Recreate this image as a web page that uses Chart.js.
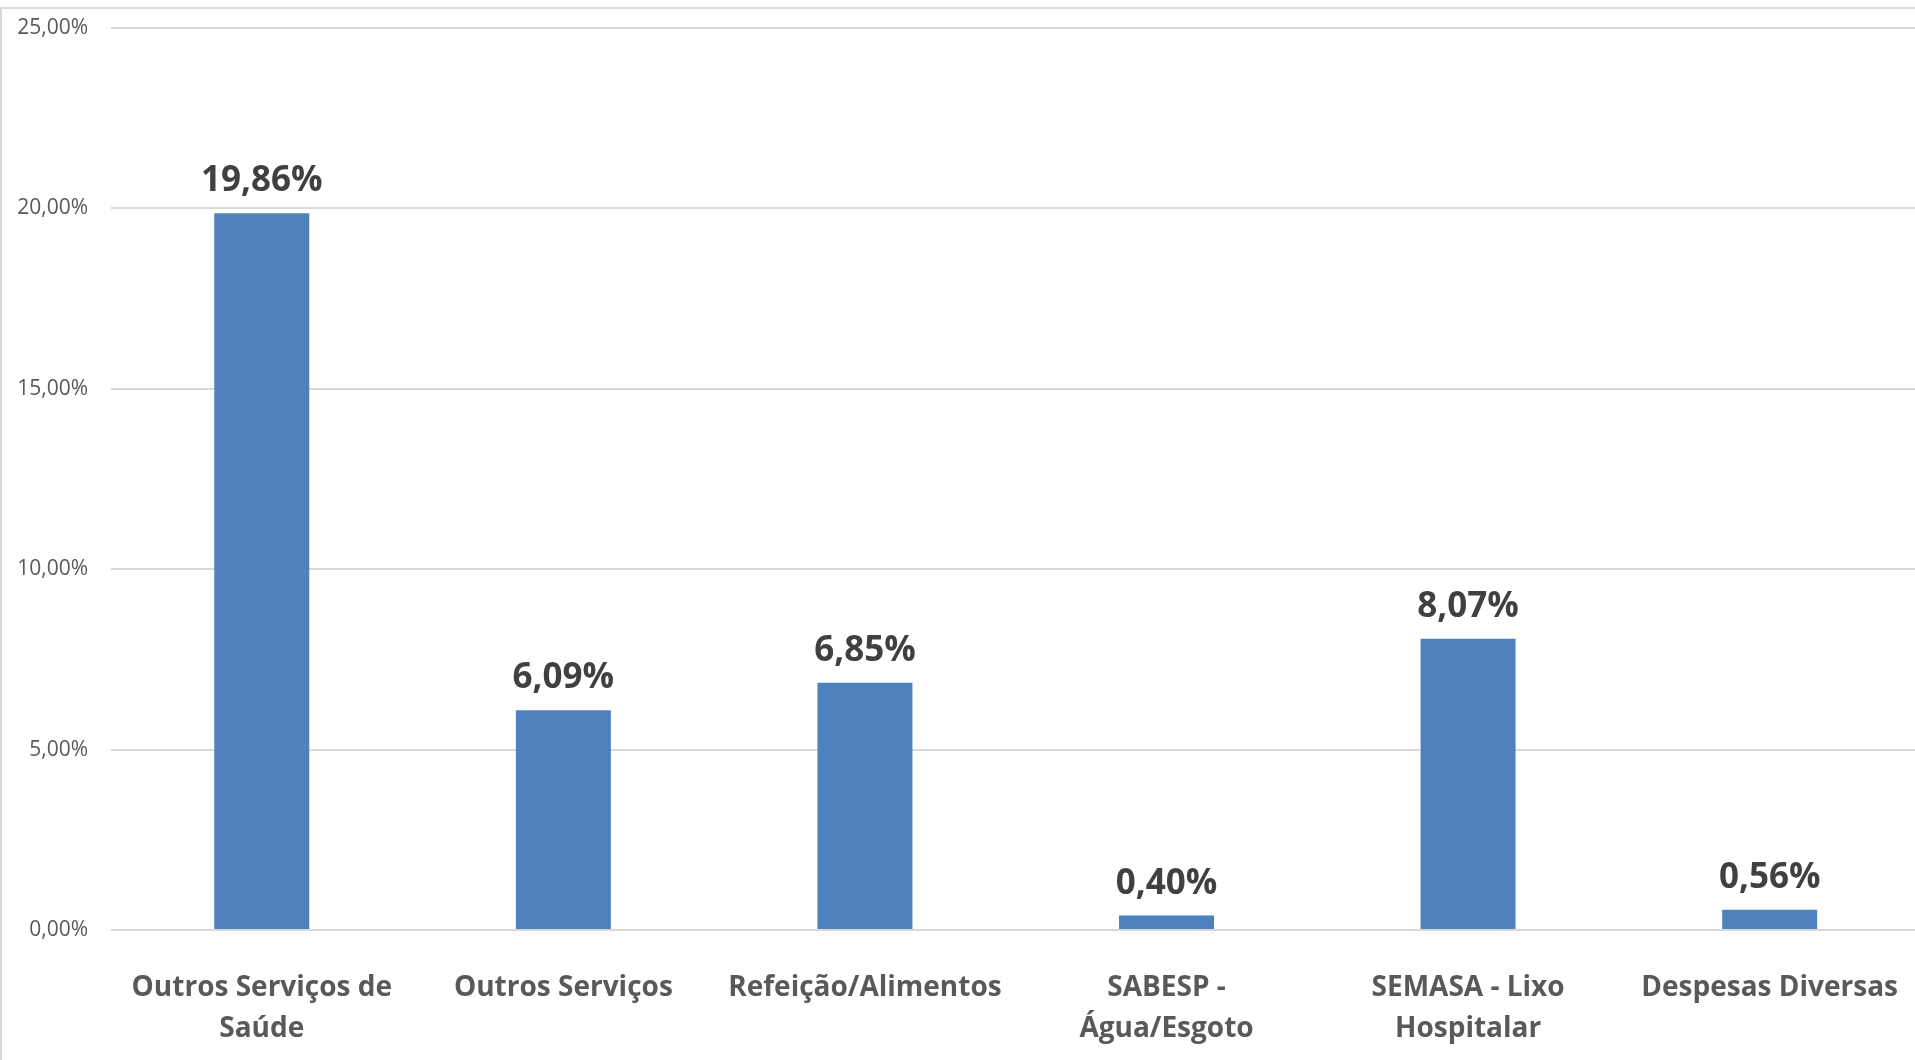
<!DOCTYPE html>
<html lang="pt">
<head>
    <meta charset="UTF-8">
    <title>Despesas</title>
    <style>
        html, body {
            margin: 0;
            padding: 0;
            background: #ffffff;
            overflow: hidden;
        }
        .frame {
            position: absolute;
            left: 0;
            top: 7px;
            width: 1930px;
            height: 1060px;
            border-top: 2px solid #d9d9d9;
            border-left: 2px solid #d9d9d9;
        }
        .chart-box {
            position: absolute;
            left: 0;
            top: -8px;
            width: 1935px;
            height: 1068px;
        }
    </style>
</head>
<body>
    <div class="frame"></div>
    <div class="chart-box">
        <canvas id="despesasChart"></canvas>
    </div>
    <script src="https://cdn.jsdelivr.net/npm/chart.js"></script>
    <script>
        const categories = [
            ['Outros Serviços de', 'Saúde'],
            'Outros Serviços',
            'Refeição/Alimentos',
            ['SABESP -', 'Água/Esgoto'],
            ['SEMASA - Lixo', 'Hospitalar'],
            'Despesas Diversas'
        ];
        const percentages = [19.86, 6.09, 6.85, 0.40, 8.07, 0.56];
        const tickValues = [0, 5, 10, 15, 20, 25];

        const fmt = v => v.toFixed(2).replace('.', ',') + '%';

        // value labels above each bar
        const barLabels = {
            id: 'barLabels',
            afterDatasetsDraw(chart) {
                const ctx = chart.ctx;
                const meta = chart.getDatasetMeta(0);
                ctx.save();
                ctx.font = 'bold 35px "Open Sans", sans-serif';
                ctx.fillStyle = '#404040';
                ctx.textAlign = 'center';
                ctx.textBaseline = 'alphabetic';
                meta.data.forEach((bar, i) => {
                    ctx.fillText(fmt(percentages[i]), bar.x, bar.y - 22);
                });
                ctx.restore();
            }
        };

        new Chart(document.getElementById('despesasChart'), {
            type: 'bar',
            data: {
                labels: categories,
                datasets: [{
                    data: percentages,
                    backgroundColor: '#4f81bd',
                    borderWidth: 0,
                    categoryPercentage: 1,
                    barPercentage: 0.315
                }]
            },
            options: {
                responsive: true,
                maintainAspectRatio: false,
                animation: false,
                layout: { padding: { top: 21, right: 0, bottom: 0, left: 0 } },
                plugins: {
                    legend: { display: false },
                    tooltip: { enabled: false }
                },
                scales: {
                    x: {
                        grid: { display: false, drawTicks: false },
                        border: { display: false },
                        ticks: {
                            color: '#595959',
                            font: { family: '"Open Sans", sans-serif', size: 28, weight: 'bold', lineHeight: 1.48 },
                            padding: 37,
                            maxRotation: 0,
                            autoSkip: false
                        },
                        afterFit: s => { s.height = 130; }
                    },
                    y: {
                        min: 0,
                        max: 25,
                        afterBuildTicks: s => { s.ticks = tickValues.map(v => ({ value: v })); },
                        grid: { color: '#d9d9d9', lineWidth: 2, drawTicks: false },
                        border: { display: false },
                        ticks: {
                            color: '#595959',
                            font: { family: '"Open Sans", sans-serif', size: 21 },
                            padding: 23,
                            callback: v => fmt(v)
                        },
                        afterFit: s => { s.width = 111; }
                    }
                }
            },
            plugins: [barLabels]
        });
    </script>
</body>
</html>
